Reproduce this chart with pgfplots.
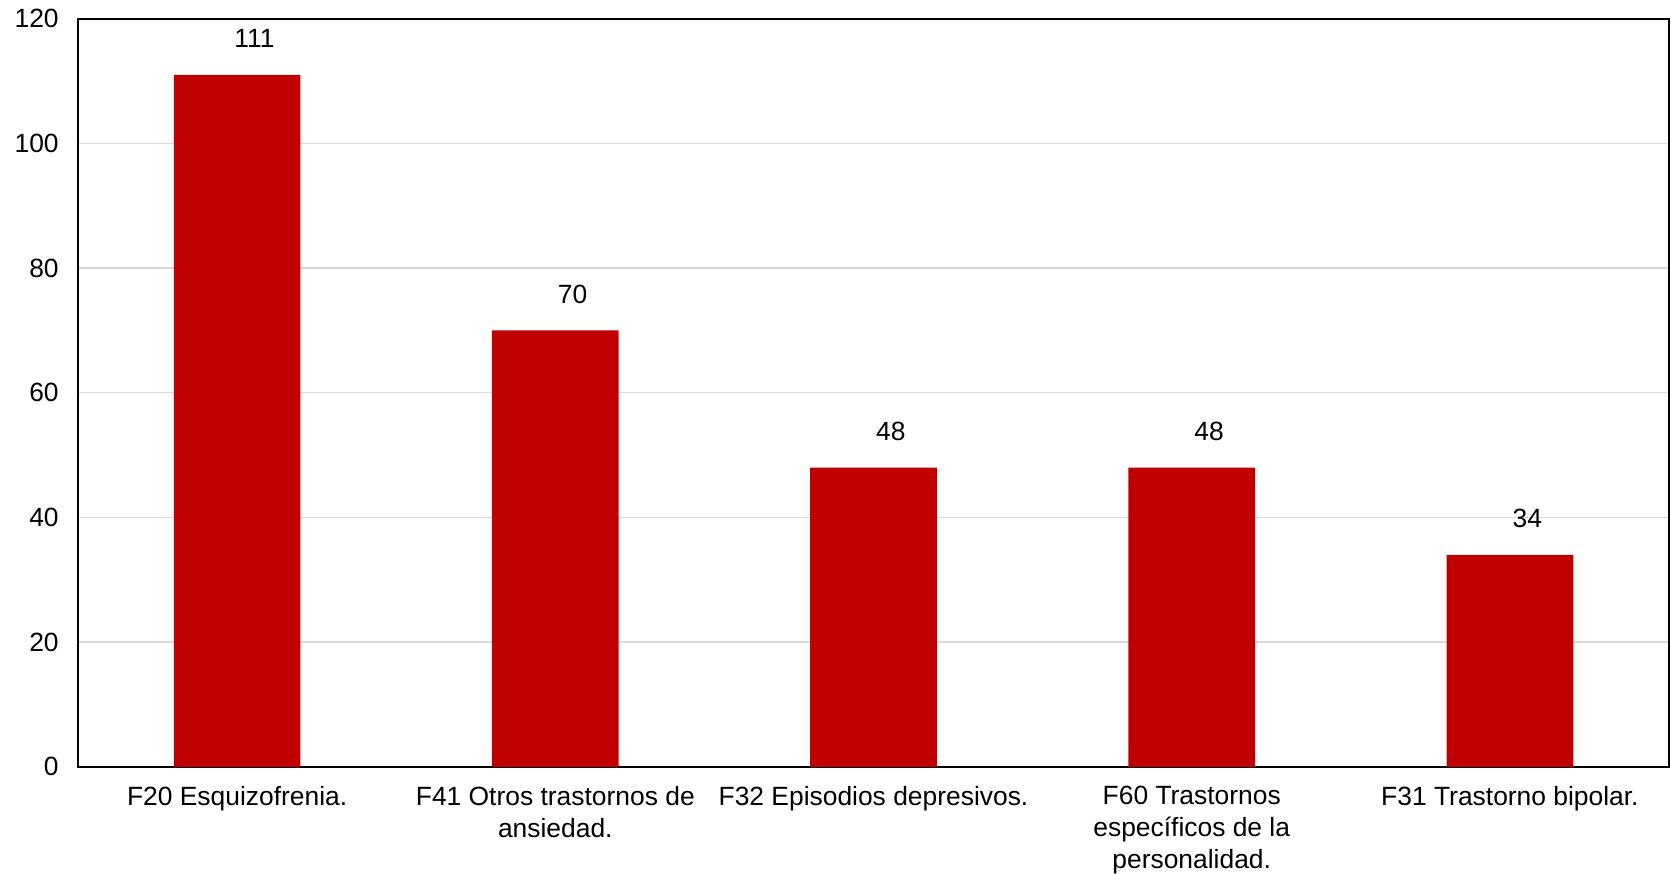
\documentclass[border=0pt]{standalone}
\usepackage{pgfplots}
\pgfplotsset{compat=1.18}
\usepackage{fontspec}
\setmainfont{Liberation Sans}
\definecolor{barred}{RGB}{192,0,0}
\definecolor{gridgray}{RGB}{217,217,217}
\begin{document}
\begin{tikzpicture}
\begin{axis}[
  name=ax,
  scale only axis,
  width=1193pt, height=561pt,
  ymin=0, ymax=120,
  xmin=-0.5, xmax=4.5,
  ytick={0,20,40,60,80,100,120},
  xtick={0,1,2,3,4},
  xticklabels={F20 Esquizofrenia., {F41 Otros trastornos de\\ansiedad.}, F32 Episodios depresivos., {F60 Trastornos\\específicos de la\\personalidad.}, F31 Trastorno bipolar.},
  major tick length=0pt,
  ymajorgrids,
  grid style={gridgray, line width=1pt},
  axis line style={black, line width=1.5pt},
  /pgf/number format/assume math mode=true,
  tick label style={font=\fontsize{19.8}{24}\selectfont},
  yticklabel style={xshift=-11pt},
  xticklabel style={align=center, yshift=-11pt},
  ybar,
  bar width=95pt,
  nodes near coords,
  nodes near coords style={font=\fontsize{19.8}{24}\selectfont, anchor=center, yshift=27pt, xshift=13pt, black},
]
\addplot[fill=barred, draw=none] coordinates {(0,111) (1,70) (2,48) (3,48) (4,34)};
\end{axis}
\pgfresetboundingbox
\path ([shift={(-58.5pt,-80pt)}]ax.south west) rectangle ([shift={(1.5pt,14pt)}]ax.north east);
\end{tikzpicture}
\end{document}
